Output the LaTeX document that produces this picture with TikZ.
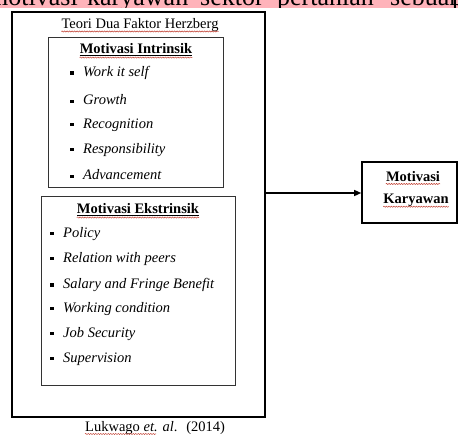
\documentclass[tikz,border=0pt]{standalone}
\usepackage{fontspec}
\setmainfont{Liberation Serif}
\usetikzlibrary{arrows.meta,decorations.pathmorphing}
\definecolor{hlpink}{HTML}{FFB3BA}
\definecolor{spellred}{HTML}{C0392B}
\tikzset{
  txt/.style={inner sep=0pt,font=\fontsize{14.5}{17}\selectfont},
  head/.style={txt,font=\fontsize{14.5}{17}\selectfont\bfseries},
  item/.style={txt,anchor=west,font=\fontsize{14.5}{17}\selectfont\itshape},
  bul/.style={fill=black,inner sep=0pt,minimum size=3.2pt,draw=none},
  outerbox/.style={draw=black,line width=1.6pt},
  innerbox/.style={draw=black!80,line width=0.9pt},
  spell/.style={draw=spellred,line width=0.45pt,decorate,decoration={snake,amplitude=0.6pt,segment length=2.5pt}},
  uline/.style={draw=black,line width=0.8pt},
  topword/.style={inner sep=0pt,anchor=base west,font=\fontsize{26}{30}\selectfont}
}
\begin{document}
\begin{tikzpicture}[x=1pt,y=-1pt]
\useasboundingbox (0,0) rectangle (458,437);
\fill[white] (0,0) rectangle (458,437);
% clipped highlighted line at top
\begin{scope}
  \clip (0,0) rectangle (458,7.5);
  \fill[hlpink] (0,0) rectangle (458,7.5);
  \node[topword] (w1) at (-12,5.5) {motivasi};
  \node[topword] (w2) at (87,5.5) {karyawan};
  \node[topword] (w3) at (200,5.5) {sektor};
  \node[topword] (w4) at (277,5.5) {pertanian};
  \node[topword] (w5) at (390,5.5) {sebuah};
  \node[topword] (w6) at (452,5.5) {p};
\end{scope}
% boxes
\draw[outerbox] (12,12) rectangle (265,417);
\draw[innerbox] (48,37) rectangle (223,187);
\draw[innerbox] (41,196) rectangle (235,385);
\node[outerbox,minimum width=95pt,minimum height=61pt,inner sep=0pt] (kar) at (409.5,192.5) {};
\coordinate (outR) at (265,193);
\draw[line width=1.3pt,-{Triangle[length=7pt,width=6pt]}] (outR) -- (kar.west |- outR);
% titles
\node[txt] (teori) at (140,25.5) {Teori Dua Faktor Herzberg};
\draw[spell] ([yshift=-2.5pt]teori.base west) -- ([yshift=-2.5pt]teori.base east);
\node[head] (mi) at (136,49) {Motivasi Intrinsik};
\draw[uline] ([yshift=-1.8pt]mi.base west) -- ([yshift=-1.8pt]mi.base east);
\draw[spell] ([yshift=-3.6pt]mi.base west) -- ([yshift=-3.6pt]mi.base east);
\node[head] (me) at (138,209) {Motivasi Ekstrinsik};
\draw[uline] ([yshift=-1.8pt]me.base west) -- ([yshift=-1.8pt]me.base east);
\draw[spell] ([yshift=-3.6pt]me.base west) -- ([yshift=-3.6pt]me.base east);
% intrinsic items
\foreach \t/\y/\n in {Work it self/73/a,Growth/100/b,Recognition/125/c,Responsibility/150/d,Advancement/175/e}{
  \node[item] (ii\n) at (83,\y) {\t};
  \node[bul] (bi\n) at ([xshift=-11pt,yshift=3.6pt]ii\n.base west) {};
}
% extrinsic items
\foreach \t/\y/\n in {Policy/234/a,Relation with peers/259/b,Salary and Fringe Benefit/285/c,Working condition/309/d,Job Security/334/e,Supervision/359/f}{
  \node[item] (ie\n) at (63,\y) {\t};
  \node[bul] (be\n) at ([xshift=-11pt,yshift=3.6pt]ie\n.base west) {};
}
% result box text
\node[head] (k1) at (413,176.5) {Motivasi};
\node[head] (k2) at (416,200) {Karyawan};
\draw[spell] ([yshift=-2.5pt]k1.base west) -- ([yshift=-2.5pt]k1.base east);
\draw[spell] ([yshift=-3.5pt]k2.base west) -- ([yshift=-3.5pt]k2.base east);
% source
\node[txt,anchor=west] (src) at (85,428) {Lukwago \textit{et. al}.\hspace{9pt}(2014)};
\draw[spell] ([yshift=-2.5pt]src.base west) -- ++(71,0);
\end{tikzpicture}
\end{document}
